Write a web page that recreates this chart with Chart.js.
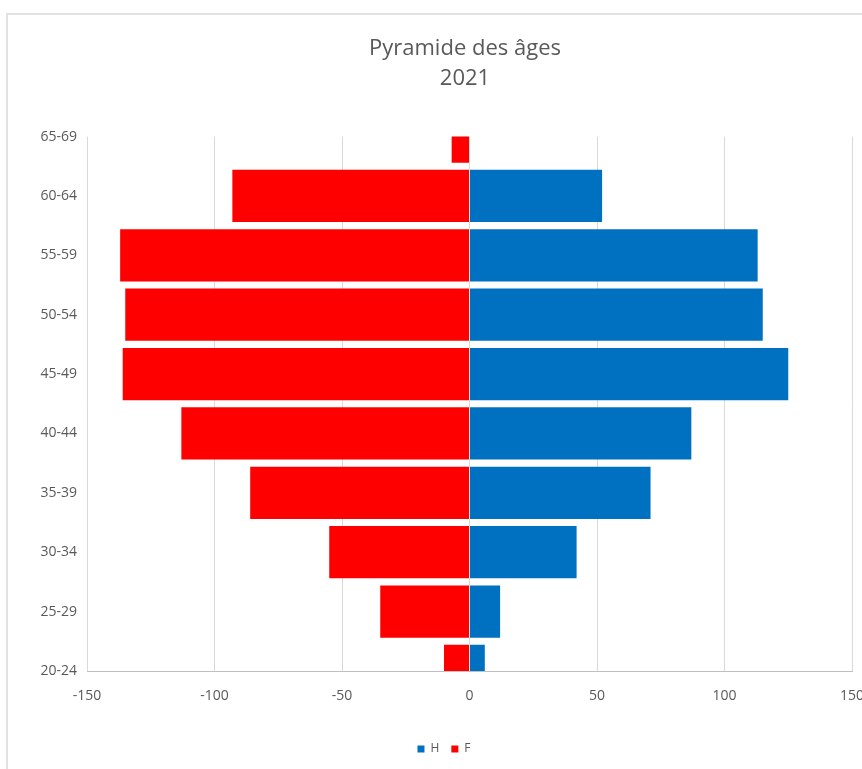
<!DOCTYPE html>
<html lang="fr">
<head>
<meta charset="utf-8">
<title>Pyramide des âges 2021</title>
<script src="https://cdn.jsdelivr.net/npm/chart.js@4.4.1/dist/chart.umd.min.js"></script>
<style>
  html, body { margin: 0; padding: 0; background: #ffffff; overflow: hidden; }
  #frame {
    position: absolute; left: 6px; top: 13px; width: 1000px; height: 1000px;
    border-left: 2px solid #e2e2e2; border-top: 2px solid #e2e2e2;
  }
  #wrap { position: absolute; left: 0; top: 0; width: 930px; height: 769px; }
</style>
</head>
<body>
<div id="frame"></div>
<div id="wrap"><canvas id="pyramide"></canvas></div>
<script>
// Tranches d'âge, de la plus jeune à la plus âgée
const ages = ['20-24', '25-29', '30-34', '35-39', '40-44', '45-49', '50-54', '55-59', '60-64', '65-69'];
// Hommes (valeurs positives, à droite)
const hommes = [6, 12, 42, 71, 87, 125, 115, 113, 52, 0];
// Femmes (valeurs négatives, à gauche)
const femmes = [-10, -35, -55, -86, -113, -136, -135, -137, -93, -7];
// Graduations de l'axe horizontal
const xMin = -150;
const xMax = 150;
const xStep = 50;

const textColor = '#595959';
const fontFamily = '"Open Sans", "DejaVu Sans", sans-serif';

// Décale la légende vers la gauche sous le graphique
const legendShift = {
  id: 'legendShift',
  afterUpdate(chart) {
    const lg = chart.legend;
    if (!lg) return;
    lg.left -= 21;
    lg.right -= 21;
    if (lg.legendHitBoxes) lg.legendHitBoxes.forEach(b => { b.left -= 21; });
  }
};

new Chart(document.getElementById('pyramide'), {
  type: 'bar',
  data: {
    labels: ages,
    datasets: [
      { label: 'H', data: hommes, backgroundColor: '#0070C0', borderWidth: 0 },
      { label: 'F', data: femmes, backgroundColor: '#FF0000', borderWidth: 0 }
    ]
  },
  options: {
    indexAxis: 'y',
    responsive: true,
    maintainAspectRatio: false,
    animation: false,
    categoryPercentage: 1,
    barPercentage: 0.88,
    layout: { padding: { left: 0, right: 0, top: 0, bottom: 4 } },
    scales: {
      x: {
        stacked: true,
        min: xMin,
        max: xMax,
        ticks: {
          stepSize: xStep,
          color: textColor,
          font: { family: fontFamily, size: 14 },
          padding: 17,
          maxRotation: 0
        },
        grid: { color: '#d9d9d9', lineWidth: 1, drawTicks: false },
        border: { display: true, color: '#bfbfbf', width: 1 },
        afterFit(scale) { scale.height = 60; }
      },
      y: {
        stacked: true,
        reverse: true,
        offset: false,
        ticks: {
          color: textColor,
          font: { family: fontFamily, size: 14 },
          padding: 10,
          autoSkip: false
        },
        grid: { display: false, drawTicks: false, offset: false },
        border: { display: false },
        afterFit(scale) { scale.width = 87; }
      },
      // marge droite vide, sans graduation
      marge: {
        type: 'category',
        axis: 'y',
        position: 'right',
        offset: false,
        ticks: { display: false },
        grid: { display: false, drawTicks: false },
        border: { display: false },
        afterFit(scale) { scale.width = 78; }
      }
    },
    plugins: {
      title: {
        display: true,
        text: ['Pyramide des âges', '2021'],
        color: textColor,
        font: { family: fontFamily, size: 22, weight: 'normal', lineHeight: 1.4 },
        padding: { top: 33, bottom: 42 }
      },
      legend: {
        position: 'bottom',
        labels: {
          color: textColor,
          font: { family: fontFamily, size: 12 },
          boxWidth: 7,
          boxHeight: 7,
          padding: 12
        }
      },
      tooltip: { enabled: false }
    }
  },
  plugins: [legendShift]
});
</script>
</body>
</html>
